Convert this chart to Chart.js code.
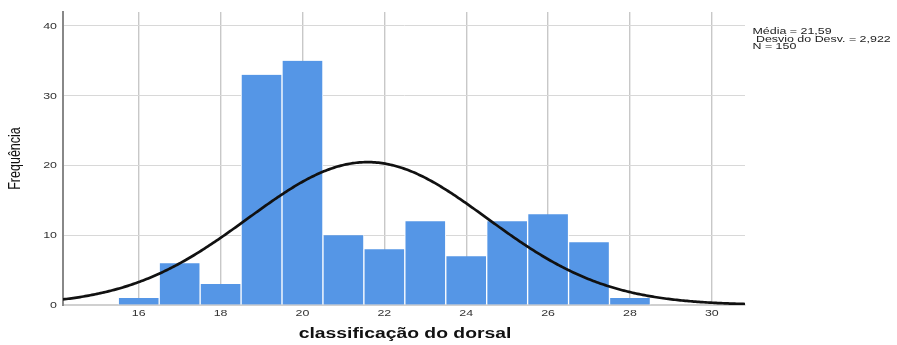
<!DOCTYPE html>
<html>
<head>
<meta charset="utf-8">
<script src="https://cdn.jsdelivr.net/npm/chart.js@4/dist/chart.umd.min.js"></script>
<style>
  html, body { margin: 0; padding: 0; background: #fff; }
  #wrap { width: 897px; height: 345px; position: relative; }
</style>
</head>
<body>
<div id="wrap"><canvas id="c" width="897" height="345"></canvas></div>
<script>
// Histogram bins (bin centres, width 1) and their frequencies
const binCenters = [16, 17, 18, 19, 20, 21, 22, 23, 24, 25, 26, 27, 28];
const frequencies = [1, 6, 3, 33, 35, 10, 8, 12, 7, 12, 13, 9, 1];

// Axis ticks and titles
const xTicks = [16, 18, 20, 22, 24, 26, 28, 30];
const yTicks = [0, 10, 20, 30, 40];
const xTitle = 'classificação do dorsal';
const yTitle = 'Frequência';

// Summary statistics shown beside the chart
const mean = 21.59;
const stdDev = 2.922;
const n = 150;
const statLines = ['Média = 21,59', ' Desvio do Desv. = 2,922', 'N = 150'];

const xMin = 14.15, xMax = 30.81;
const binWidth = 1;

// Fitted normal curve scaled to the histogram counts
const curve = [];
for (let i = 0; i <= 400; i++) {
  const x = xMin + (xMax - xMin) * i / 400;
  const z = (x - mean) / stdDev;
  curve.push({ x, y: n * binWidth / (stdDev * Math.sqrt(2 * Math.PI)) * Math.exp(-0.5 * z * z) });
}

const FONT = '"Liberation Sans", Arial, sans-serif';
const WIDE = 1.38; // horizontal stretch applied to all lettering

// Draws text stretched horizontally around its anchor point
function wideText(ctx, text, x, y, align) {
  ctx.save();
  ctx.translate(x, y);
  ctx.scale(WIDE, 1);
  ctx.textAlign = align;
  ctx.fillText(text, 0, 0);
  ctx.restore();
}

const labelsPlugin = {
  id: 'labels',
  afterDraw(chart) {
    const ctx = chart.ctx;
    const xs = chart.scales.x, ys = chart.scales.y;
    ctx.save();
    ctx.textBaseline = 'middle';

    // tick labels
    ctx.fillStyle = '#333';
    ctx.font = '9px ' + FONT;
    xTicks.forEach(v => wideText(ctx, String(v), xs.getPixelForValue(v), 313.5, 'center'));
    yTicks.forEach(v => wideText(ctx, String(v), 57, ys.getPixelForValue(v) + 0.5, 'right'));

    // x axis title
    ctx.fillStyle = '#111';
    ctx.font = 'bold 14px ' + FONT;
    wideText(ctx, xTitle, (chart.chartArea.left + chart.chartArea.right) / 2 + 1, 334, 'center');

    // y axis title (rotated; glyph height stretched horizontally on screen)
    ctx.save();
    ctx.translate(15.5, (chart.chartArea.top + chart.chartArea.bottom) / 2);
    ctx.scale(WIDE, 1);
    ctx.rotate(-Math.PI / 2);
    ctx.font = '12.5px ' + FONT;
    ctx.textAlign = 'center';
    ctx.fillText(yTitle, 0, 0);
    ctx.restore();

    // statistics box
    ctx.fillStyle = '#222';
    ctx.font = '9px ' + FONT;
    statLines.forEach((t, i) => wideText(ctx, t, 752.5, 31.8 + i * 7.5, 'left'));
    ctx.restore();
  }
};

new Chart(document.getElementById('c'), {
  type: 'bar',
  data: {
    datasets: [
      {
        type: 'line',
        data: curve,
        borderColor: '#111',
        borderWidth: 2.7,
        pointRadius: 0,
        tension: 0,
        fill: false,
        order: 0
      },
      {
        type: 'bar',
        data: binCenters.map((c, i) => ({ x: c, y: frequencies[i] })),
        backgroundColor: '#5596e6',
        borderColor: '#ffffff',
        borderWidth: { left: 1, right: 1, top: 0, bottom: 0 },
        borderSkipped: false,
        barPercentage: 1,
        categoryPercentage: 1,
        order: 1
      }
    ]
  },
  options: {
    responsive: false,
    animation: false,
    events: [],
    layout: { padding: { left: 0, top: 12, right: 152, bottom: 0 } },
    plugins: { legend: { display: false }, tooltip: { enabled: false } },
    scales: {
      x: {
        type: 'linear',
        min: xMin,
        max: xMax,
        offset: false,
        afterBuildTicks: s => { s.ticks = xTicks.map(v => ({ value: v })); },
        afterFit: s => { s.height = 40; },
        grid: { color: '#c8c8c8', lineWidth: 1.4, drawTicks: false, offset: false },
        border: { color: '#d0d0d0', width: 2 },
        ticks: { display: false }
      },
      y: {
        type: 'linear',
        min: 0,
        max: 42,
        afterBuildTicks: s => { s.ticks = yTicks.map(v => ({ value: v })); },
        afterFit: s => { s.width = 63; },
        grid: { color: '#d8d8d8', lineWidth: 1, drawTicks: false },
        border: { color: '#888', width: 2 },
        ticks: { display: false }
      }
    }
  },
  plugins: [labelsPlugin]
});
</script>
</body>
</html>
